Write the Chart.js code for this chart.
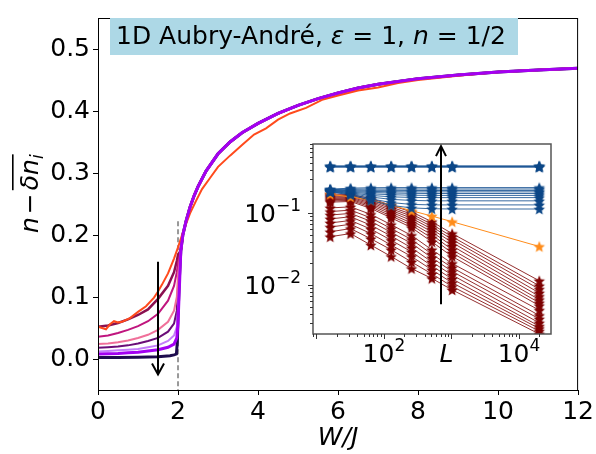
<!DOCTYPE html>
<html>
<head>
<meta charset="utf-8">
<script src="https://cdn.jsdelivr.net/npm/chart.js@4/dist/chart.umd.min.js"></script>
<style>
  html, body { margin: 0; padding: 0; background: #fff; }
  #wrap { position: relative; width: 596px; height: 454px; }
  #main { position: absolute; left: 0; top: 0; }
  #inset { position: absolute; left: 230px; top: 136px; }
</style>
</head>
<body>
<div id="wrap">
  <canvas id="main" width="596" height="454"></canvas>
  <canvas id="inset" width="330" height="240"></canvas>
</div>
<script>
Chart.defaults.font.family = '"DejaVu Sans", sans-serif';
Chart.defaults.color = '#000';

var FONT = '"DejaVu Sans", sans-serif';

// ---- main panel ----
var mainXTicks = [0, 2, 4, 6, 8, 10, 12];
var mainYTicks = [0, 0.1, 0.2, 0.3, 0.4, 0.5];

// W/J grid below the transition
var wLow = [0, 0.25, 0.5, 0.75, 1.0, 1.25, 1.5, 1.75, 1.9, 1.97, 2.0];
var lowDarkMagenta = [0.052, 0.054, 0.058, 0.064, 0.071, 0.080, 0.097, 0.118, 0.140, 0.158, 0.168];
var lowMagenta     = [0.036, 0.038, 0.042, 0.047, 0.053, 0.061, 0.073, 0.094, 0.118, 0.140, 0.155];
var lowPink        = [0.024, 0.025, 0.027, 0.030, 0.034, 0.039, 0.047, 0.060, 0.078, 0.100, 0.135];
var lowDarkPurple  = [0.018, 0.019, 0.020, 0.022, 0.025, 0.029, 0.034, 0.044, 0.057, 0.078, 0.118];
var lowLightPurple = [0.012, 0.013, 0.014, 0.015, 0.016, 0.019, 0.022, 0.029, 0.038, 0.052, 0.080];
var lowPurple      = [0.008, 0.0085, 0.009, 0.010, 0.011, 0.013, 0.015, 0.019, 0.024, 0.034, 0.058];

// largest size: flat until right at W/J = 2
var wNavy = [0, 0.5, 1.0, 1.5, 1.8, 1.9, 1.96, 1.985, 2.0, 2.03];
var lowNavy = [0.0023, 0.0025, 0.0028, 0.0038, 0.0053, 0.0066, 0.008, 0.030, 0.070, 0.125];

// localized side, all sizes on top of each other
var wHigh = [2.07, 2.12, 2.2, 2.3, 2.4, 2.5, 2.7, 3.0, 3.3, 3.6, 4.0, 4.5, 5.0, 5.5, 6.0, 6.5, 7.0, 8.0, 9.0, 10.0, 11.0, 12.0];
var highCommon = [0.175, 0.200, 0.222, 0.245, 0.263, 0.278, 0.303, 0.331, 0.350, 0.365, 0.380, 0.396, 0.409, 0.420, 0.429, 0.437, 0.443, 0.452, 0.458, 0.463, 0.466, 0.469];

// smallest size, own grid
var wOrange = [0, 0.1, 0.2, 0.3, 0.4, 0.5, 0.6, 0.8, 1.0, 1.2, 1.4, 1.5, 1.6, 1.75, 1.9, 2.0, 2.1, 2.2, 2.3, 2.45, 2.6, 2.8, 3.0, 3.3, 3.6, 3.9, 4.2, 4.5, 4.8, 5.2, 5.6, 6.0, 6.5, 7.0, 7.5, 8.0, 9.0, 10.0, 11.0, 12.0];
var valOrange = [0.052, 0.050, 0.048, 0.056, 0.061, 0.059, 0.060, 0.066, 0.076, 0.085, 0.099, 0.109, 0.120, 0.138, 0.162, 0.180, 0.200, 0.218, 0.235, 0.255, 0.274, 0.292, 0.310, 0.328, 0.345, 0.362, 0.372, 0.386, 0.396, 0.405, 0.418, 0.425, 0.433, 0.438, 0.445, 0.450, 0.457, 0.463, 0.466, 0.469];

// ---- inset: fluctuation vs system size ----
var sizesL = [16, 32, 64, 128, 256, 512, 1024, 20000];
var blueRows = [
  [0.452, 0.452, 0.452, 0.452, 0.452, 0.452, 0.452, 0.452],
  [0.446, 0.446, 0.446, 0.446, 0.446, 0.446, 0.446, 0.446],
  [0.440, 0.440, 0.440, 0.440, 0.440, 0.440, 0.440, 0.440],
  [0.434, 0.434, 0.434, 0.434, 0.434, 0.434, 0.434, 0.434],
  [0.215, 0.222, 0.225, 0.226, 0.226, 0.226, 0.226, 0.226],
  [0.212, 0.215, 0.216, 0.216, 0.216, 0.216, 0.216, 0.216],
  [0.210, 0.210, 0.207, 0.207, 0.206, 0.206, 0.206, 0.206],
  [0.208, 0.205, 0.200, 0.198, 0.197, 0.197, 0.197, 0.197],
  [0.206, 0.200, 0.193, 0.190, 0.188, 0.187, 0.187, 0.187],
  [0.204, 0.196, 0.185, 0.180, 0.177, 0.176, 0.176, 0.176],
  [0.202, 0.192, 0.176, 0.168, 0.165, 0.164, 0.164, 0.164],
  [0.200, 0.188, 0.167, 0.155, 0.150, 0.148, 0.148, 0.148],
  [0.198, 0.184, 0.158, 0.140, 0.132, 0.130, 0.130, 0.130],
  [0.196, 0.180, 0.150, 0.128, 0.118, 0.115, 0.114, 0.114]
];
var orangeRow = [0.182, 0.168, 0.151, 0.129, 0.108, 0.091, 0.076, 0.0344];
var redRows = [
  [0.185, 0.180, 0.160, 0.128, 0.104, 0.076, 0.052, 0.0115],
  [0.178, 0.175, 0.152, 0.121, 0.097, 0.070, 0.047, 0.0098],
  [0.172, 0.170, 0.146, 0.115, 0.091, 0.065, 0.043, 0.0088],
  [0.166, 0.165, 0.140, 0.109, 0.085, 0.060, 0.039, 0.0078],
  [0.160, 0.160, 0.134, 0.103, 0.079, 0.055, 0.035, 0.0070],
  [0.154, 0.155, 0.128, 0.097, 0.073, 0.050, 0.031, 0.0063],
  [0.148, 0.150, 0.122, 0.091, 0.068, 0.045, 0.028, 0.0057],
  [0.142, 0.145, 0.116, 0.086, 0.063, 0.040, 0.025, 0.0052],
  [0.118, 0.122, 0.096, 0.069, 0.049, 0.031, 0.020, 0.0045],
  [0.105, 0.110, 0.086, 0.061, 0.043, 0.027, 0.0175, 0.0038],
  [0.094, 0.099, 0.077, 0.054, 0.038, 0.024, 0.0155, 0.0034],
  [0.083, 0.089, 0.068, 0.048, 0.033, 0.021, 0.0138, 0.0030],
  [0.073, 0.079, 0.060, 0.042, 0.029, 0.0185, 0.0122, 0.0027],
  [0.064, 0.070, 0.052, 0.036, 0.025, 0.0163, 0.0108, 0.0025],
  [0.055, 0.061, 0.044, 0.031, 0.021, 0.0143, 0.0096, 0.0023],
  [0.047, 0.052, 0.036, 0.025, 0.017, 0.0124, 0.0086, 0.0021]
];
var insetXMajor = [100, 10000];
var insetXExp = ['2', '4'];
var insetYMajor = [0.1, 0.01];
var insetYExp = ['\u22121', '\u22122'];

function pts(xs, ys) {
  return xs.map(function (x, i) { return { x: x, y: ys[i] }; });
}
function withHigh(xs, ys) {
  return pts(xs, ys).concat(pts(wHigh, highCommon));
}

function runs(ctx, list, x, y) {
  list.forEach(function (r) {
    ctx.font = r.f;
    ctx.fillText(r.t, x, y + (r.dy || 0));
    x += ctx.measureText(r.t).width + (r.gap || 0);
  });
  return x;
}

function arrow(ctx, x, y0, y1, hw, hh) {
  var dir = y1 > y0 ? 1 : -1;
  ctx.beginPath();
  ctx.moveTo(x, y0); ctx.lineTo(x, y1);
  ctx.moveTo(x - hw, y1 - dir * hh); ctx.lineTo(x, y1); ctx.lineTo(x + hw, y1 - dir * hh);
  ctx.stroke();
}

var mainDecor = {
  id: 'mainDecor',
  beforeDatasetsDraw: function (chart) {
    var ctx = chart.ctx, xs = chart.scales.x, ys = chart.scales.y;
    var px = xs.getPixelForValue(2);
    ctx.save();
    ctx.strokeStyle = '#999';
    ctx.lineWidth = 2;
    ctx.setLineDash([5, 3]);
    ctx.beginPath();
    ctx.moveTo(px, ys.getPixelForValue(0.222));
    ctx.lineTo(px, chart.chartArea.bottom);
    ctx.stroke();
    ctx.restore();
  },
  afterDraw: function (chart) {
    var ctx = chart.ctx, a = chart.chartArea, xs = chart.scales.x, ys = chart.scales.y;
    ctx.save();
    ctx.strokeStyle = '#000';
    ctx.lineWidth = 1;
    ctx.strokeRect(a.left + 0.5, a.top + 0.5, a.right - a.left - 1, a.bottom - a.top);

    // label box
    ctx.fillStyle = '#add8e6';
    ctx.fillRect(110, 18, 408, 37);
    ctx.fillStyle = '#000';
    ctx.textBaseline = 'alphabetic';
    ctx.textAlign = 'left';
    var up = '25px ' + FONT, it = 'italic 25px ' + FONT;
    runs(ctx, [
      { t: '1D Aubry-Andr\u00e9, ', f: up },
      { t: '\u03b5', f: it },
      { t: ' = 1, ', f: up },
      { t: 'n', f: it },
      { t: ' = 1/2', f: up }
    ], 116, 44);

    // arrow: growing system size
    ctx.lineWidth = 2;
    ctx.strokeStyle = '#000';
    arrow(ctx, xs.getPixelForValue(1.5), ys.getPixelForValue(0.157), ys.getPixelForValue(-0.025), 6, 11);

    // axis titles
    ctx.textAlign = 'center';
    ctx.font = it;
    ctx.fillText('W/J', (a.left + a.right) / 2, 445);

    ctx.translate(38, 233);
    ctx.rotate(-Math.PI / 2);
    ctx.textAlign = 'left';
    var x = runs(ctx, [
      { t: 'n', f: it, gap: 3 },
      { t: '\u2212', f: up, gap: 3 }
    ], 0, 0);
    var ox = x;
    x = runs(ctx, [
      { t: '\u03b4n', f: it },
      { t: 'i', f: 'italic 17px ' + FONT, dy: 5 }
    ], x, 0);
    ctx.fillRect(ox, -26, x - ox, 1.6);
    ctx.restore();
  }
};

var mainCurves = [
  { c: '#a300f2', w: 3, d: withHigh(wLow, lowPurple) },
  { c: '#ff4a1c', w: 2, d: pts(wOrange, valOrange) },
  { c: '#c47dfa', w: 2, d: withHigh(wLow, lowLightPurple) },
  { c: '#f0709a', w: 2, d: withHigh(wLow, lowPink) },
  { c: '#c0157e', w: 2, d: withHigh(wLow, lowMagenta) },
  { c: '#8a1050', w: 2.5, d: withHigh(wLow, lowDarkMagenta) },
  { c: '#6a0d78', w: 2, d: withHigh(wLow, lowDarkPurple) },
  { c: '#1e0c4e', w: 3, d: withHigh(wNavy, lowNavy) }
];

new Chart(document.getElementById('main').getContext('2d'), {
  type: 'line',
  data: {
    datasets: mainCurves.map(function (s) {
      return { data: s.d, borderColor: s.c, borderWidth: s.w, pointRadius: 0, tension: 0, fill: false };
    })
  },
  options: {
    responsive: false,
    animation: false,
    layout: { padding: { left: 0, top: 10, right: 14, bottom: 0 } },
    plugins: { legend: { display: false }, tooltip: { enabled: false } },
    scales: {
      x: {
        type: 'linear', min: 0, max: 12,
        afterBuildTicks: function (s) { s.ticks = mainXTicks.map(function (v) { return { value: v }; }); },
        afterFit: function (s) { s.height = 64; },
        grid: { drawOnChartArea: false, drawTicks: true, tickLength: 5, tickColor: '#000' },
        border: { display: true, color: '#000' },
        ticks: { font: { size: 25 }, padding: 2, maxRotation: 0, color: '#000' }
      },
      y: {
        type: 'linear', min: -0.05, max: 0.55,
        afterBuildTicks: function (s) { s.ticks = mainYTicks.map(function (v) { return { value: v }; }); },
        afterFit: function (s) { s.width = 98; },
        grid: { drawOnChartArea: false, drawTicks: true, tickLength: 5, tickColor: '#000' },
        border: { display: true, color: '#000' },
        ticks: { font: { size: 25 }, padding: 3, color: '#000', callback: function (v) { return v.toFixed(1); } }
      }
    }
  },
  plugins: [mainDecor]
});

// ---- inset ----
function starMark(color, r) {
  var c = document.createElement('canvas');
  c.width = c.height = Math.ceil(2 * r + 2);
  var g = c.getContext('2d'), m = c.width / 2;
  g.fillStyle = color;
  g.beginPath();
  for (var k = 0; k < 10; k++) {
    var rr = k % 2 ? r * 0.45 : r;
    var ang = -Math.PI / 2 + k * Math.PI / 5;
    g.lineTo(m + rr * Math.cos(ang), m + 0.6 + rr * Math.sin(ang));
  }
  g.closePath();
  g.fill();
  return c;
}

var blueStar = starMark('#0c4787', 6);
var orangeStar = starMark('#ff8c1a', 6);
var redStar = starMark('#7d0000', 6);

function series(row, line, mark) {
  return {
    data: pts(sizesL, row), borderColor: line, borderWidth: 1, tension: 0, fill: false,
    pointStyle: mark, pointRadius: 6
  };
}

var insetSets = []
  .concat(blueRows.map(function (r) { return series(r, 'rgba(20,80,145,0.85)', blueStar); }))
  .concat([series(orangeRow, '#ff8c1a', orangeStar)])
  .concat(redRows.map(function (r) { return series(r, 'rgba(130,10,10,0.85)', redStar); }));

function logTicks(lo, hi) {
  var out = [];
  for (var e = -4; e <= 5; e++) {
    for (var m = 1; m <= 9; m++) {
      var v = m * Math.pow(10, e);
      if (v >= lo && v <= hi) out.push({ value: v, major: m === 1 });
    }
  }
  return out;
}

function sup(ctx, base, exp, x, y, align) {
  ctx.font = '25px ' + FONT;
  var wb = ctx.measureText(base).width;
  ctx.font = '17px ' + FONT;
  var we = ctx.measureText(exp).width;
  var x0 = align === 'right' ? x - wb - we : x - (wb + we) / 2;
  ctx.font = '25px ' + FONT;
  ctx.fillText(base, x0, y);
  ctx.font = '17px ' + FONT;
  ctx.fillText(exp, x0 + wb, y - 11);
}

var insetDecor = {
  id: 'insetDecor',
  beforeDraw: function (chart) {
    var a = chart.chartArea, ctx = chart.ctx;
    ctx.save();
    ctx.fillStyle = '#fff';
    ctx.fillRect(a.left, a.top, a.right - a.left, a.bottom - a.top);
    ctx.restore();
  },
  afterDraw: function (chart) {
    var ctx = chart.ctx, a = chart.chartArea, xs = chart.scales.x, ys = chart.scales.y;
    ctx.save();
    ctx.strokeStyle = '#555';
    ctx.lineWidth = 1.5;
    ctx.strokeRect(a.left, a.top, a.right - a.left, a.bottom - a.top);

    ctx.lineWidth = 1;
    ctx.strokeStyle = '#333';
    ctx.beginPath();
    logTicks(xs.min, xs.max).forEach(function (t) {
      var px = Math.round(xs.getPixelForValue(t.value)) + 0.5;
      ctx.moveTo(px, a.bottom); ctx.lineTo(px, a.bottom + (t.major ? 5 : 3));
    });
    logTicks(ys.min, ys.max).forEach(function (t) {
      var py = Math.round(ys.getPixelForValue(t.value)) + 0.5;
      ctx.moveTo(a.left, py); ctx.lineTo(a.left - (t.major ? 5 : 3), py);
    });
    ctx.stroke();

    ctx.fillStyle = '#000';
    ctx.textBaseline = 'alphabetic';
    ctx.textAlign = 'left';
    insetYMajor.forEach(function (v, i) {
      sup(ctx, '10', insetYExp[i], a.left - 12, ys.getPixelForValue(v) + 9, 'right');
    });
    insetXMajor.forEach(function (v, i) {
      sup(ctx, '10', insetXExp[i], xs.getPixelForValue(v), a.bottom + 28, 'center');
    });
    ctx.font = 'italic 25px ' + FONT;
    ctx.textAlign = 'center';
    ctx.fillText('L', xs.getPixelForValue(1000) - 5, a.bottom + 28);

    // arrow: growing disorder
    ctx.lineWidth = 2;
    ctx.strokeStyle = '#000';
    arrow(ctx, xs.getPixelForValue(700), ys.getPixelForValue(0.00545), ys.getPixelForValue(0.85), 5, 10);
    ctx.restore();
  }
};

new Chart(document.getElementById('inset').getContext('2d'), {
  type: 'line',
  data: { datasets: insetSets },
  options: {
    responsive: false,
    animation: false,
    layout: { padding: { left: 0, top: 8, right: 9, bottom: 0 } },
    plugins: { legend: { display: false }, tooltip: { enabled: false } },
    scales: {
      x: {
        type: 'logarithmic', min: 8.9, max: 29800,
        afterBuildTicks: function (s) { s.ticks = logTicks(s.min, s.max); },
        afterFit: function (s) { s.height = 42; },
        grid: { display: false }, border: { display: false }, ticks: { display: false }
      },
      y: {
        type: 'logarithmic', min: 0.0021, max: 0.91,
        afterBuildTicks: function (s) { s.ticks = logTicks(s.min, s.max); },
        afterFit: function (s) { s.width = 83; },
        grid: { display: false }, border: { display: false }, ticks: { display: false }
      }
    }
  },
  plugins: [insetDecor]
});
</script>
</body>
</html>
